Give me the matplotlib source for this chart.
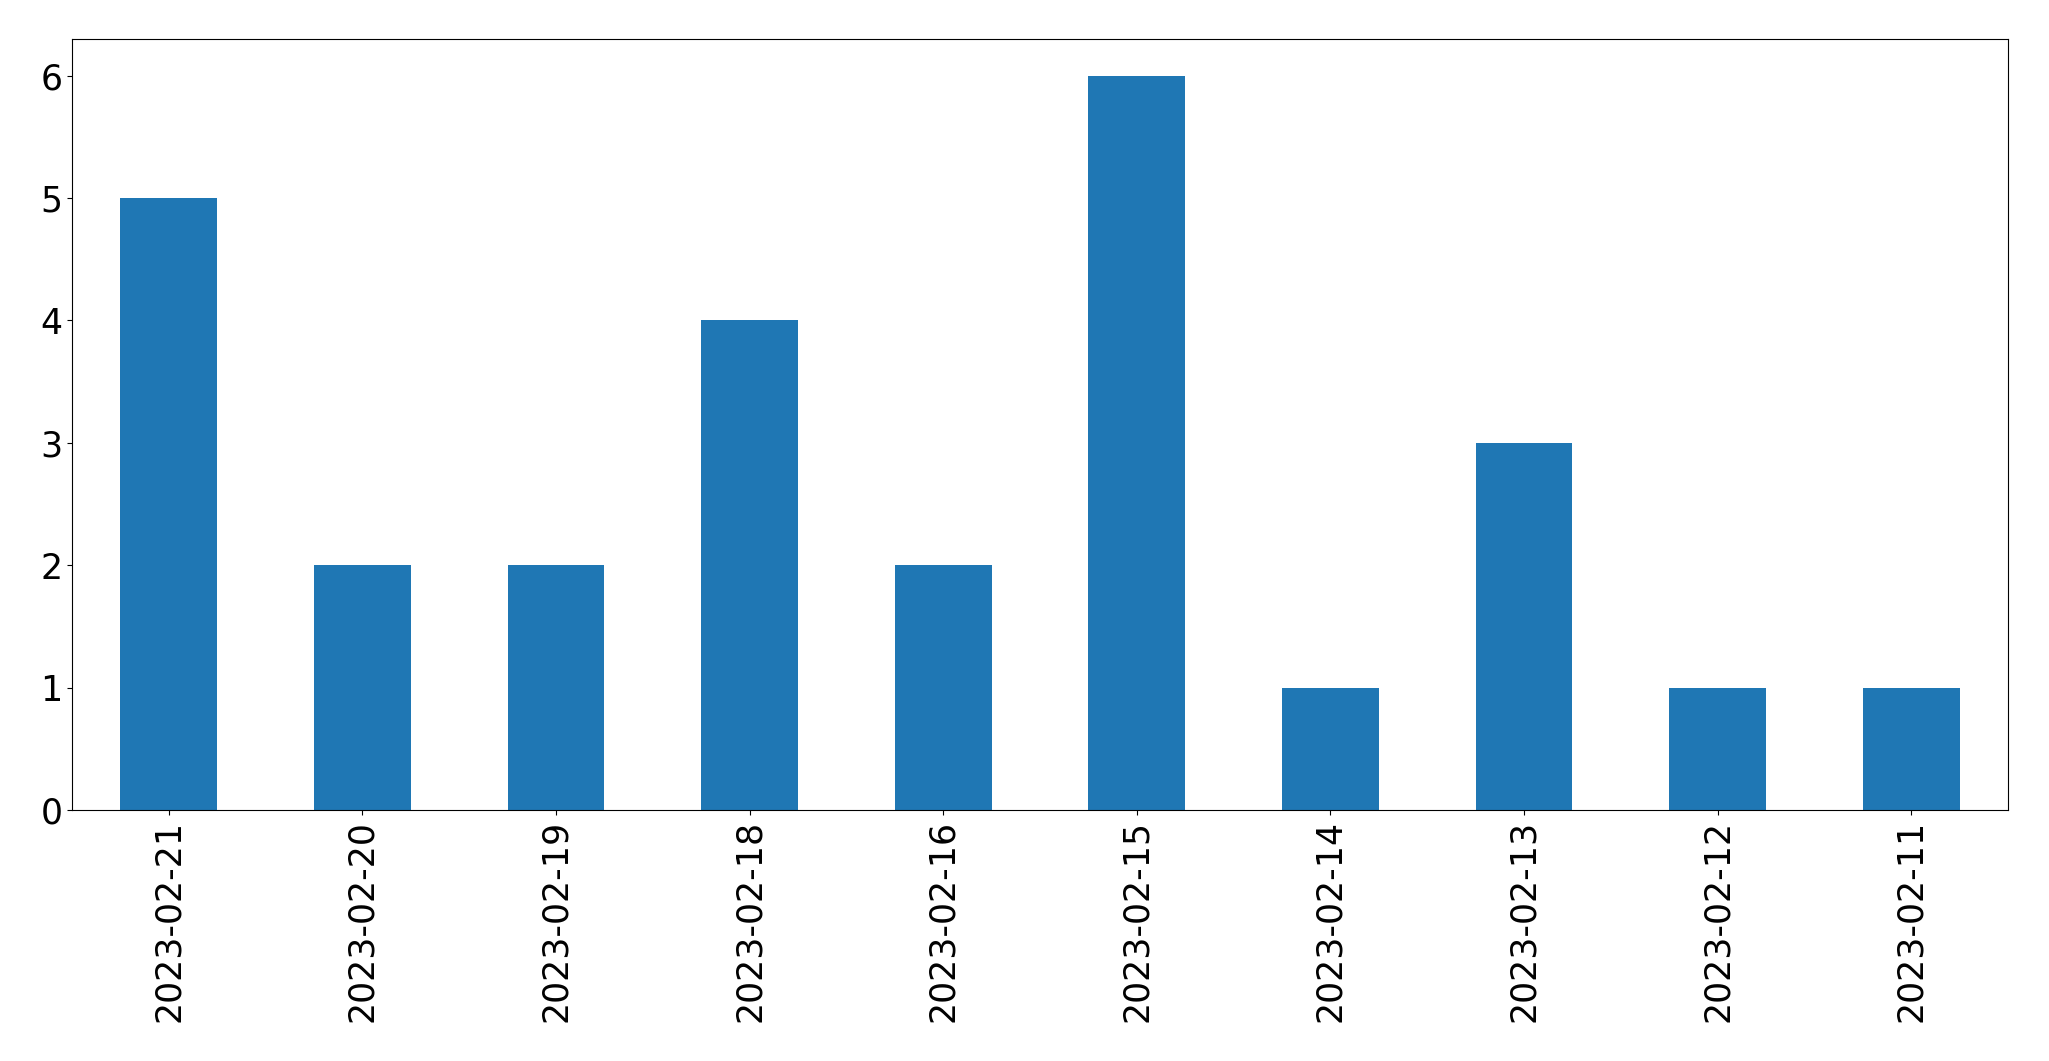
import matplotlib
matplotlib.use("Agg")
import matplotlib.pyplot as plt
import pandas as pd

dates = ["2023-02-21", "2023-02-20", "2023-02-19", "2023-02-18", "2023-02-16",
         "2023-02-15", "2023-02-14", "2023-02-13", "2023-02-12", "2023-02-11"]
counts = [5, 2, 2, 4, 2, 6, 1, 3, 1, 1]

series = pd.Series(counts, index=dates)

fig = plt.figure(figsize=(20.49, 10.61), dpi=100)
ax = fig.add_axes([72 / 2049, 1 - 810 / 1061, (2008 - 72) / 2049, (810 - 39) / 1061])
series.plot(kind="bar", ax=ax, color="#1f77b4", width=0.5)
ax.tick_params(axis="both", labelsize=25)
ax.set_yticks(range(0, 7))
fig.savefig("out.png", dpi=100)
